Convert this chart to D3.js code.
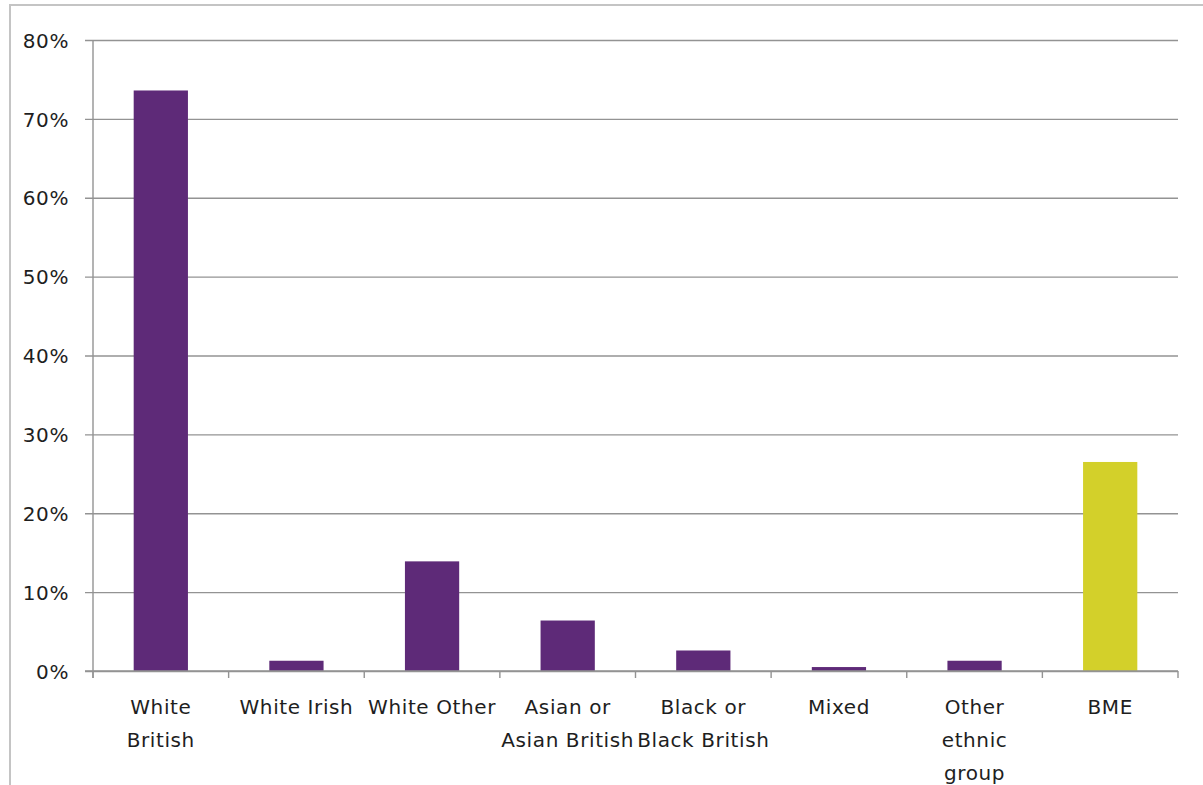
<!DOCTYPE html>
<html>
<head>
<meta charset="utf-8">
<script src="https://cdn.jsdelivr.net/npm/d3@7/dist/d3.min.js"></script>
<style>
  html, body { margin: 0; padding: 0; background: #fff; }
  svg { display: block; }
  text { font-family: "DejaVu Sans", sans-serif; fill: #1e1e1e; }
</style>
</head>
<body>
<svg id="chart" width="1203" height="785"></svg>
<script>
// Ethnic group shares (percent)
const categories = [
  ["White", "British"],
  ["White Irish"],
  ["White Other"],
  ["Asian or", "Asian British"],
  ["Black or", "Black British"],
  ["Mixed"],
  ["Other", "ethnic", "group"],
  ["BME"]
];
const values = [73.6, 1.3, 13.9, 6.4, 2.6, 0.5, 1.3, 26.5];
const barColors = ["#5e2a78", "#5e2a78", "#5e2a78", "#5e2a78", "#5e2a78", "#5e2a78", "#5e2a78", "#d3d02a"];
const yTicks = [0, 10, 20, 30, 40, 50, 60, 70, 80];

const svg = d3.select("#chart");
const plotLeft = 93, plotRight = 1178, plotTop = 40, plotBottom = 671;

// outer frame
svg.append("path")
  .attr("d", "M10,785 L10,5 L1203,5")
  .attr("fill", "none")
  .attr("stroke", "#c4c4c4")
  .attr("stroke-width", 2);

const keys = categories.map((c, i) => i);
const x = d3.scaleBand().domain(keys).range([plotLeft, plotRight]).paddingInner(0.6).paddingOuter(0.3);
const xCat = d3.scaleBand().domain(keys).range([plotLeft, plotRight]).padding(0);
const y = d3.scaleLinear().domain([0, 80]).range([plotBottom, plotTop]);

// horizontal gridlines with outward ticks
const yAxis = d3.axisLeft(y)
  .tickValues(yTicks)
  .tickSize(-(plotRight - plotLeft))
  .tickFormat(d => d + "%");
const gy = svg.append("g").attr("transform", `translate(${plotLeft},0)`).call(yAxis);
gy.select(".domain").remove();
gy.selectAll(".tick line")
  .attr("x1", -8)
  .attr("stroke", "#939393")
  .attr("stroke-width", 1.4);
gy.selectAll(".tick text")
  .attr("x", -24)
  .attr("dy", "0.36em")
  .attr("font-family", null)
  .attr("font-size", null)
  .style("font-size", "20px")
  .style("letter-spacing", "0.6px")
  .attr("fill", "#1e1e1e");

// vertical axis line
svg.append("line")
  .attr("x1", plotLeft).attr("x2", plotLeft)
  .attr("y1", plotTop).attr("y2", plotBottom + 7)
  .attr("stroke", "#939393").attr("stroke-width", 1.4);

// bars
svg.append("g").selectAll("rect")
  .data(values)
  .join("rect")
  .attr("x", (d, i) => x(i))
  .attr("width", x.bandwidth())
  .attr("y", d => y(d))
  .attr("height", d => y(0) - y(d))
  .attr("fill", (d, i) => barColors[i]);

// category boundary ticks on the baseline
const bounds = keys.map(k => xCat(k)).concat([plotRight]);
svg.append("g").selectAll("line")
  .data(bounds)
  .join("line")
  .attr("x1", d => d).attr("x2", d => d)
  .attr("y1", plotBottom).attr("y2", plotBottom + 7)
  .attr("stroke", "#939393").attr("stroke-width", 1.4);

// baseline
svg.append("line")
  .attr("x1", plotLeft - 8).attr("x2", plotRight)
  .attr("y1", plotBottom).attr("y2", plotBottom)
  .attr("stroke", "#939393").attr("stroke-width", 1.4);

// category labels
const labels = svg.append("g").selectAll("text")
  .data(categories)
  .join("text")
  .attr("x", (d, i) => xCat(i) + xCat.bandwidth() / 2)
  .attr("y", 714)
  .attr("text-anchor", "middle")
  .style("font-size", "20px")
  .style("letter-spacing", "0.6px");
labels.selectAll("tspan")
  .data(d => d)
  .join("tspan")
  .attr("x", function() { return d3.select(this.parentNode).attr("x"); })
  .attr("dy", (d, i) => i === 0 ? 0 : 33)
  .text(d => d);
</script>
</body>
</html>
